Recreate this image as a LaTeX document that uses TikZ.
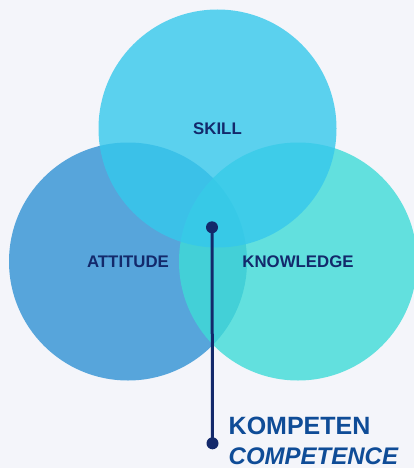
\documentclass[tikz,border=0pt]{standalone}
\usepackage{fontspec}
\setmainfont{Liberation Sans}
\usepackage{tikz}
\definecolor{paper}{HTML}{F4F5FA}
\definecolor{navy}{HTML}{13296B}
\definecolor{kblue}{HTML}{0F4C97}
\definecolor{setskill}{HTML}{35C8EC}
\definecolor{setattitude}{HTML}{3092D4}
\definecolor{setknowledge}{HTML}{3EDBD7}
\tikzset{%
    vennset/.style={circle, minimum size=238pt, inner sep=0pt, fill opacity=0.8},
    vennlabel/.style={inner sep=0pt, text=navy, font=\bfseries\fontsize{16.8}{18}\selectfont},
    pin/.style={circle, fill=navy, minimum size=12pt, inner sep=0pt},
    title/.style={anchor=base west, inner sep=0pt, text=kblue}
}
\newcommand\VennSet[4]{%
    \node[vennset, fill=#4] (#1) at (#2,#3) {}
}

\begin{document}
\begin{tikzpicture}[x=1pt, y=-1pt]
      \useasboundingbox[fill=paper] (0,0) rectangle (414,468);

      \VennSet{attitude}{128}{261.5}{setattitude};
      \VennSet{knowledge}{298}{261.5}{setknowledge};
      \VennSet{skill}{217.5}{128.5}{setskill};

      \node[vennlabel] (skill-lbl) at (skill.center) {SKILL};
      \node[vennlabel] (attitude-lbl) at (attitude.center) {ATTITUDE};
      \node[vennlabel] (knowledge-lbl) at (knowledge.center) {KNOWLEDGE};

      \node[pin] (pinTop) at (212,227.3) {};
      \node[pin] (pinBottom) at (212.5,443.3) {};
      \draw[navy, line width=3pt] (pinTop.center) -- (pinBottom.center);

      \node[title, font=\bfseries\fontsize{25}{28}\selectfont] (kompeten) at (228.5,434.3) {KOMPETEN};
      \node[title, font=\bfseries\itshape\fontsize{24}{28}\selectfont] (competence) at (228.5,464.5) {COMPETENCE};
    \end{tikzpicture}
\end{document}
